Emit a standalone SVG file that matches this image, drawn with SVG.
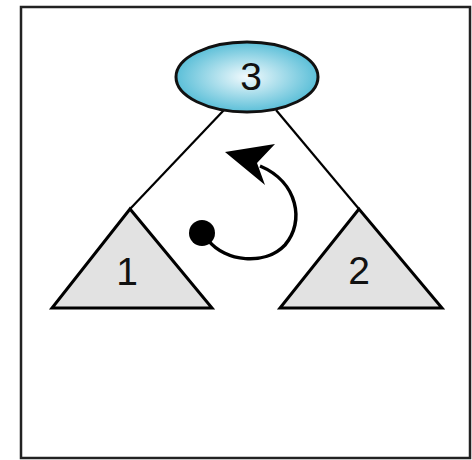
<svg xmlns="http://www.w3.org/2000/svg" width="472" height="460" viewBox="0 0 472 460">
  <defs>
    <radialGradient id="blue" cx="0.5" cy="0.5" r="0.5">
      <stop offset="0" stop-color="#f2fafd"/>
      <stop offset="1" stop-color="#5bbfd8"/>
    </radialGradient>
    <style>
      .edge { stroke: #000; stroke-width: 2.2; fill: none; }
      .tri { fill: #e2e2e2; stroke: #000; stroke-width: 3; stroke-linejoin: miter; }
      .lbl { font-family: "Liberation Sans", Arial, sans-serif; text-anchor: middle; fill: #111; }
    </style>
  </defs>
  <rect x="0" y="0" width="472" height="460" fill="#fff"/>
  <rect x="21" y="7" width="449" height="451" fill="#fff" stroke="#222" stroke-width="2.5"/>
  <g id="connectors">
    <line class="edge" x1="224" y1="110" x2="130" y2="209"/>
    <line class="edge" x1="276" y1="110" x2="359" y2="209"/>
  </g>
  <g id="node3">
    <ellipse cx="247" cy="77" rx="71" ry="35" fill="url(#blue)" stroke="#111" stroke-width="3"/>
    <text class="lbl" x="251" y="90" font-size="39">3</text>
  </g>
  <g id="node1">
    <polygon class="tri" points="130,209 52,308 212,308"/>
    <text class="lbl" x="127" y="285" font-size="39">1</text>
  </g>
  <g id="node2">
    <polygon class="tri" points="359,209 280,308 442,308"/>
    <text class="lbl" x="359" y="284" font-size="39">2</text>
  </g>
  <g id="rotation">
    <circle cx="202" cy="233" r="13" fill="#000"/>
    <path d="M 208 240 C 225 262, 265 266, 285 245 C 305 222, 298 182, 260 166" fill="none" stroke="#000" stroke-width="3.5"/>
    <polygon points="225,152 275,144 257,163 265,185" fill="#000"/>
  </g>
</svg>
